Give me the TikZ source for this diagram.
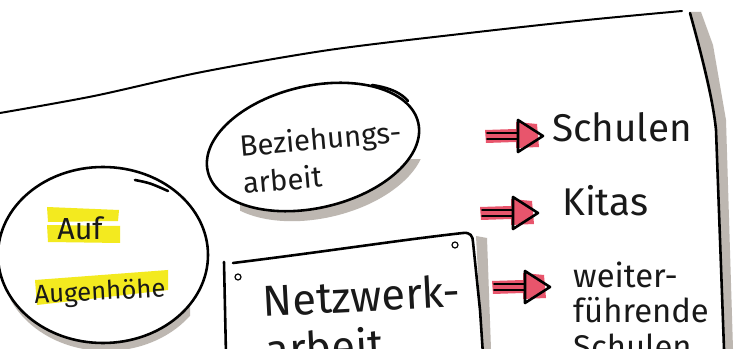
\documentclass[tikz,border=0pt]{standalone}
\usepackage{fontspec}
\setmainfont{Fira Sans}
\usetikzlibrary{calc}
\definecolor{paperShadow}{HTML}{BDB7B1}
\definecolor{marker}{HTML}{E8556C}
\definecolor{highlight}{HTML}{F3EA1F}

\tikzset{
  ink/.style={line width=2.2pt,line cap=round,line join=round},
  txt/.style={inner sep=0pt,text=black!90},
  pics/markarrow/.style={code={
    \fill[marker] (-33,-6) -- (-2,-7) -- (-2,-14) -- (19,-12) -- (21,11) -- (-2,12) -- (-2,6) -- (-32,7) -- cycle;
    \draw[ink,line width=1.6pt] (-31,-3) -- (0,-3) (-31,3) -- (0,3);
    \draw[ink] (0,-16) -- (0,16) (0,-16) -- (25,0) -- (0,16);
  }}
}

\begin{document}
\begin{tikzpicture}[x=0.03cm,y=-0.03cm]
  \useasboundingbox (0,0) rectangle (736,349);
  \clip (0,0) rectangle (736,349);
  \fill[white] (0,0) rectangle (736,349);

  % sheet of paper
  \fill[paperShadow] (690,12) -- (701,12) -- (713,45) -- (726,120) -- (733,349) -- (724,349) -- (715,120) -- cycle;
  \draw[ink,line width=1.7pt] plot[smooth] coordinates {(0,113) (94,96) (202,72) (329,50) (469,33) (587,20) (682,11)};
  \draw[ink] (690,13) .. controls (703,60) and (713,100) .. (716,130) -- (724,349);

  % Auf Augenhoehe
  \begin{scope}
    \clip (0,300) rectangle (190,349);
    \fill[paperShadow] (106,263) ellipse [x radius=105, y radius=88];
  \end{scope}
  \draw[ink,fill=white] (103,255) ellipse [x radius=105, y radius=88];
  \draw[ink] (135,180) .. controls (150,183) .. (168,191);
  \fill[highlight] (47,207) -- (119,210) -- (118,221) -- (48,222) -- cycle;
  \fill[highlight] (47,225) -- (120,226) -- (120,243) -- (48,242) -- cycle;
  \fill[highlight] (35,280) -- (168,270) -- (168,290) -- (37,305) -- cycle;
  \node[txt,font=\fontsize{26}{26}\selectfont] (auf) at (80,228) {Auf};
  \node[txt,font=\fontsize{22}{22}\selectfont,rotate=3] (augen) at (100,293) {Augenhöhe};

  % Beziehungsarbeit
  \begin{scope}
    \clip (240,160) rectangle (440,240);
    \fill[paperShadow,rotate around={13:(319,157)}] (319,157) ellipse [x radius=108, y radius=61];
  \end{scope}
  \draw[ink,fill=white,rotate around={13:(313,147)}] (313,147) ellipse [x radius=108, y radius=61];
  \draw[ink] (372,85) .. controls (392,88) and (402,94) .. (408,101);
  \node[txt,align=left,rotate=5,font=\fontsize{25}{32}\selectfont] (bez) at (322,157) {Beziehungs-\\arbeit};

  % Netzwerkarbeit
  \fill[paperShadow] (476,236) -- (487,238) -- (491,349) -- (482,349) -- cycle;
  \draw[ink] (224,262) -- (226,355);
  \draw[ink] (233,263) .. controls (330,251) and (400,240) .. (463,233) .. controls (470,232) and (473,236) .. (473,242) -- (480,310) -- (483,355);
  \draw[line width=1pt] (238,277) circle (3) (455,245) circle (3);
  \node[txt,anchor=north west,align=left,rotate=3,font=\fontsize{37}{42}\selectfont] (netz) at (262,284) {Netzwerk-\\arbeit};

  % Ziele
  \node[txt,anchor=base west,font=\fontsize{33}{33}\selectfont] (schulen) at (552,142) {Schulen};
  \node[txt,anchor=base west,font=\fontsize{33}{33}\selectfont] (kitas) at (562,216) {Kitas};
  \node[txt,anchor=north west,align=left,font=\fontsize{28}{30}\selectfont] (weiter) at (573,262) {weiter-\\führende\\Schulen};
  \pic at (518,136) {markarrow};
  \pic at (513,213) {markarrow};
  \pic at (525,287) {markarrow};
\end{tikzpicture}
\end{document}
